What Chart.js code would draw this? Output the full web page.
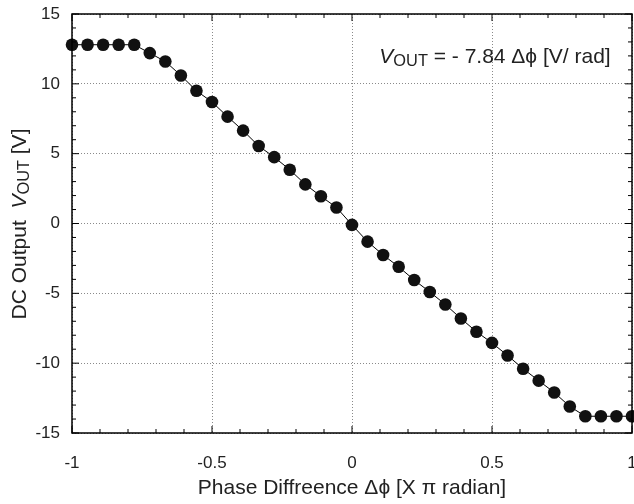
<!DOCTYPE html>
<html>
<head>
<meta charset="utf-8">
<script src="https://cdn.jsdelivr.net/npm/chart.js@4.4.1/dist/chart.umd.min.js"></script>
<style>
  html, body { margin: 0; padding: 0; background: #fff; }
  #wrap { width: 634px; height: 504px; }
</style>
</head>
<body>
<div id="wrap"><canvas id="grafico"></canvas></div>
<script>
// Dados: fase em unidades de pi, saída DC em volts
const fase = [
  -1, -17/18, -16/18, -15/18, -14/18, -13/18, -12/18, -11/18, -10/18, -9/18,
  -8/18, -7/18, -6/18, -5/18, -4/18, -3/18, -2/18, -1/18, 0,
  1/18, 2/18, 3/18, 4/18, 5/18, 6/18, 7/18, 8/18, 9/18,
  10/18, 11/18, 12/18, 13/18, 14/18, 15/18, 16/18, 17/18, 1
];
const saida = [
  12.8, 12.8, 12.8, 12.8, 12.8, 12.2, 11.6, 10.6, 9.5, 8.7,
  7.65, 6.65, 5.55, 4.75, 3.85, 2.8, 1.95, 1.15, -0.1,
  -1.3, -2.25, -3.1, -4.05, -4.9, -5.8, -6.8, -7.75, -8.55,
  -9.45, -10.4, -11.25, -12.1, -13.1, -13.8, -13.8, -13.8, -13.8
];
const xTicks = [-1, -0.5, 0, 0.5, 1];
const yTicks = [-15, -10, -5, 0, 5, 10, 15];

const FONTE = 'Liberation Sans, Arial, Helvetica, sans-serif';

// ----------------------------------------------------------------
// Texto com V itálico e subscrito OUT
// ----------------------------------------------------------------
function _partes(ctx, partes, x, y, size, medir) {
  let cx = x;
  partes.forEach(p => {
    const s = p.sub ? size * 0.78 : size;
    ctx.font = (p.it ? 'italic ' : '') + s + 'px ' + FONTE;
    if (!medir) ctx.fillText(p.t, cx, y + (p.sub ? size * 0.22 : 0));
    cx += ctx.measureText(p.t).width;
  });
  return cx - x;
}

function _texto(ctx, partes, cx, cy, size) {
  ctx.textBaseline = 'middle';
  ctx.textAlign = 'left';
  const w = _partes(ctx, partes, 0, 0, size, true);
  _partes(ctx, partes, cx - w / 2, cy, size, false);
}

const moldura = {
  id: 'moldura',
  afterDraw(chart) {
    const { ctx, chartArea: a, scales } = chart;
    const sx = scales.x, sy = scales.y;
    ctx.save();
    ctx.strokeStyle = '#000';
    ctx.lineWidth = 1.5;
    ctx.strokeRect(a.left, a.top, a.right - a.left, a.bottom - a.top);

    ctx.lineWidth = 1;
    ctx.beginPath();
    // ticks do eixo x (para dentro, em cima e embaixo)
    for (let i = -10; i <= 10; i++) {
      const px = sx.getPixelForValue(i / 10);
      const len = i % 5 === 0 ? 7 : 4;
      ctx.moveTo(px, a.bottom); ctx.lineTo(px, a.bottom - len);
      ctx.moveTo(px, a.top);    ctx.lineTo(px, a.top + len);
    }
    // ticks do eixo y (para dentro, esquerda e direita)
    for (let v = -15; v <= 15; v++) {
      const py = sy.getPixelForValue(v);
      const len = v % 5 === 0 ? 7 : 4;
      ctx.moveTo(a.left, py);  ctx.lineTo(a.left + len, py);
      ctx.moveTo(a.right, py); ctx.lineTo(a.right - len, py);
    }
    ctx.stroke();

    ctx.fillStyle = '#222';
    // título do eixo x
    _texto(ctx, [{ t: 'Phase Diffreence \u0394\u03d5 [X \u03c0 radian]' }], 352, 488, 21);
    // título do eixo y
    ctx.save();
    ctx.translate(20, 224);
    ctx.rotate(-Math.PI / 2);
    _texto(ctx, [{ t: 'DC Output  ' }, { t: 'V', it: true }, { t: 'OUT', sub: true }, { t: ' [V]' }], 0, 0, 21);
    ctx.restore();
    // anotação
    _texto(ctx, [{ t: 'V', it: true }, { t: 'OUT', sub: true }, { t: ' = - 7.84 \u0394\u03d5 [V/ rad]' }], 495, 57, 21);
    ctx.restore();
  }
};

new Chart(document.getElementById('grafico'), {
  type: 'scatter',
  data: {
    datasets: [{
      data: fase.map((f, i) => ({ x: f, y: saida[i] })),
      showLine: true,
      borderColor: '#000',
      borderWidth: 1,
      backgroundColor: '#111',
      pointBackgroundColor: '#111',
      pointBorderWidth: 0,
      pointRadius: 6.3,
      clip: 8,
    }],
  },
  options: {
    responsive: true,
    maintainAspectRatio: false,
    animation: false,
    layout: { autoPadding: false, padding: { top: 14, right: 2, left: 0, bottom: 0 } },
    plugins: { legend: { display: false }, tooltip: { enabled: false } },
    scales: {
      x: {
        type: 'linear', min: -1, max: 1,
        afterBuildTicks: s => { s.ticks = xTicks.map(v => ({ value: v })); },
        afterFit: s => { s.height = 71; s.paddingLeft = 0; s.paddingRight = 0; },
        grid: { color: '#8a8a8a', drawTicks: false },
        border: { display: false, dash: [1, 2] },
        ticks: { color: '#222', padding: 20, font: { family: FONTE, size: 17 }, callback: v => String(v) },
      },
      y: {
        type: 'linear', min: -15, max: 15,
        afterBuildTicks: s => { s.ticks = yTicks.map(v => ({ value: v })); },
        afterFit: s => { s.width = 72; s.paddingTop = 0; s.paddingBottom = 0; },
        grid: { color: '#8a8a8a', drawTicks: false },
        border: { display: false, dash: [1, 2] },
        ticks: { color: '#222', padding: 12, font: { family: FONTE, size: 17 }, callback: v => String(v) },
      },
    },
  },
  plugins: [moldura],
});
</script>
</body>
</html>
